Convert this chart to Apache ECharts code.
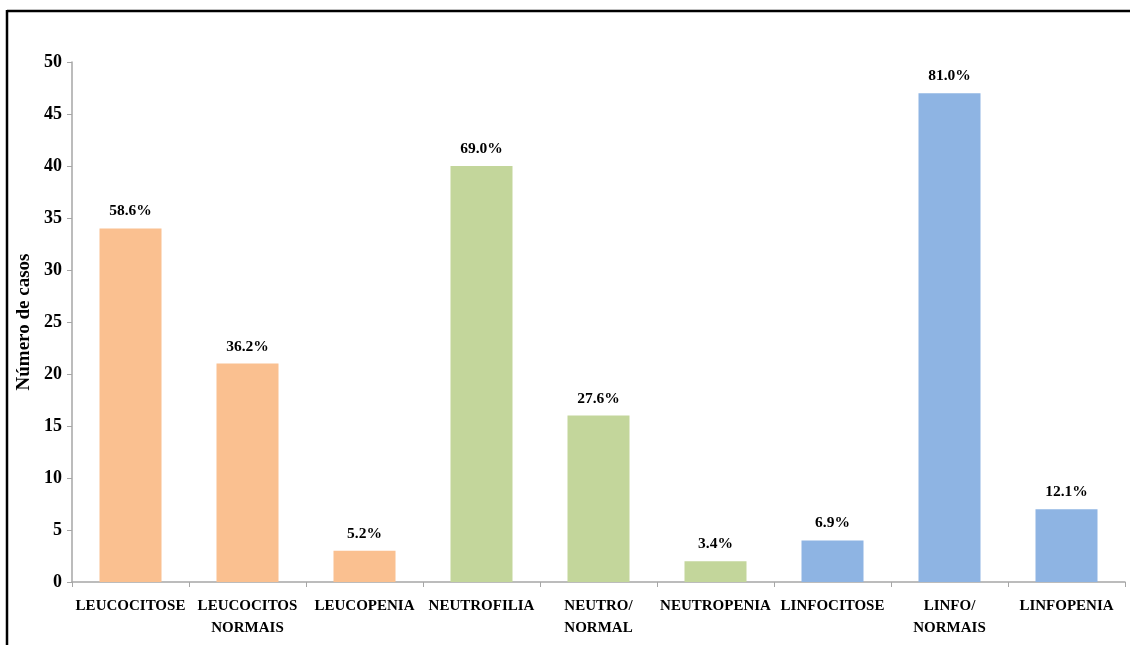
<!DOCTYPE html>
<html><head><meta charset="utf-8">
<script src="https://cdn.jsdelivr.net/npm/echarts@6/dist/echarts.min.js"></script>
<style>html,body{margin:0;padding:0;background:#fff}#c{width:1130px;height:645px}</style>
</head><body><div id="c"></div>
<script>
const categories = ['LEUCOCITOSE','LEUCOCITOS\nNORMAIS','LEUCOPENIA','NEUTROFILIA','NEUTRO/\nNORMAL','NEUTROPENIA','LINFOCITOSE','LINFO/\nNORMAIS','LINFOPENIA'];
const values = [34, 21, 3, 40, 16, 2, 4, 47, 7];
const percentLabels = ['58.6%','36.2%','5.2%','69.0%','27.6%','3.4%','6.9%','81.0%','12.1%'];
const groupColors = ['#FAC090','#FAC090','#FAC090','#C3D69B','#C3D69B','#C3D69B','#8EB4E3','#8EB4E3','#8EB4E3'];
const yTicks = {min: 0, max: 50, interval: 5};

const font = '"Liberation Serif", "Times New Roman", serif';
const chart = echarts.init(document.getElementById('c'));
chart.setOption({
  animation: false,
  grid: {left: 72, right: 5, top: 62, bottom: 63, containLabel: false},
  xAxis: {
    type: 'category', data: categories,
    axisLine: {lineStyle: {color: '#A6A6A6', width: 1.5}},
    axisTick: {show: true, length: 5, lineStyle: {color: '#A6A6A6'}},
    axisLabel: {interval: 0, color: '#000', fontFamily: font, fontWeight: 'bold', fontSize: 15, lineHeight: 22, margin: 13}
  },
  yAxis: {
    type: 'value', min: yTicks.min, max: yTicks.max, interval: yTicks.interval,
    name: 'Número de casos', nameLocation: 'middle', nameGap: 31,
    nameTextStyle: {color: '#000', fontFamily: font, fontWeight: 'bold', fontSize: 19},
    axisLine: {show: true, lineStyle: {color: '#A6A6A6', width: 1.5}},
    axisTick: {show: true, length: 5, lineStyle: {color: '#A6A6A6'}},
    splitLine: {show: false},
    axisLabel: {color: '#000', fontFamily: font, fontWeight: 'bold', fontSize: 18, margin: 10}
  },
  series: [{
    type: 'bar', barWidth: '53%',
    data: values.map((v, i) => ({value: v, itemStyle: {color: groupColors[i]}})),
    label: {show: true, position: 'top', distance: 9, color: '#000', fontFamily: font, fontWeight: 'bold', fontSize: 15.5,
      formatter: p => percentLabels[p.dataIndex]}
  }],
  graphic: [
    {type: 'line', shape: {x1: 7, y1: 11, x2: 1130, y2: 11}, style: {stroke: '#000', lineWidth: 2.5}},
    {type: 'line', shape: {x1: 7, y1: 10, x2: 7, y2: 645}, style: {stroke: '#000', lineWidth: 2.5}}
  ]
});
</script></body></html>
